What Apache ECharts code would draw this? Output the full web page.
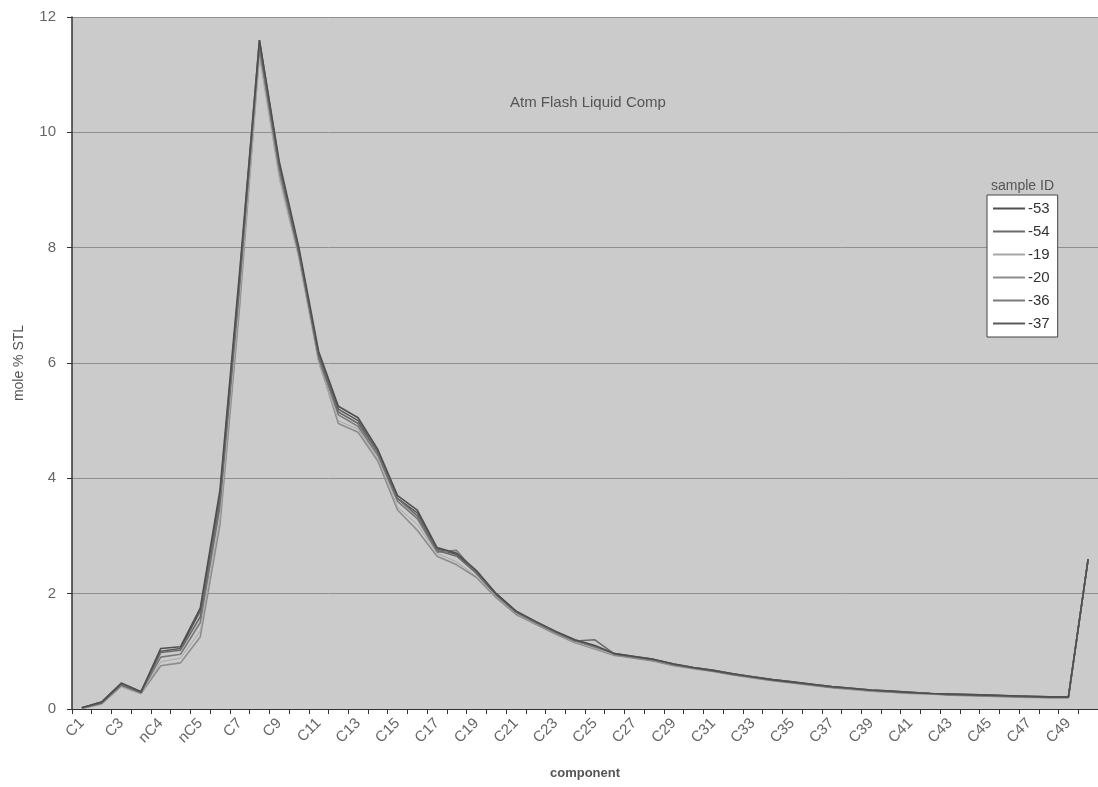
<!DOCTYPE html>
<html>
<head>
<meta charset="utf-8">
<title>Atm Flash Liquid Comp</title>
<script src="https://cdn.jsdelivr.net/npm/echarts@6/dist/echarts.min.js"></script>
<style>
  html, body { margin: 0; padding: 0; background: #fff; }
  #chart { width: 1098px; height: 787px; }
</style>
</head>
<body>
<div id="chart"></div>
<script>
// components (x axis)
const components = [
  "C1", "C2", "C3", "iC4", "nC4", "iC5", "nC5", "C6", "C7", "C8",
  "C9", "C10", "C11", "C12", "C13", "C14", "C15", "C16", "C17", "C18",
  "C19", "C20", "C21", "C22", "C23", "C24", "C25", "C26", "C27", "C28",
  "C29", "C30", "C31", "C32", "C33", "C34", "C35", "C36", "C37", "C38",
  "C39", "C40", "C41", "C42", "C43", "C44", "C45", "C46", "C47", "C48",
  "C49", "C50+"
];

// mole % STL per sample
const s53 = [0.02, 0.12, 0.45, 0.3, 1.05, 1.08, 1.75, 3.8, 7.6, 11.6,
  9.5, 8.0, 6.2, 5.25, 5.05, 4.5, 3.7, 3.45, 2.8, 2.7,
  2.4, 2.0, 1.7, 1.52, 1.35, 1.2, 1.1, 0.96, 0.91, 0.86,
  0.78, 0.72, 0.67, 0.61, 0.56, 0.51, 0.47, 0.43, 0.39, 0.36,
  0.33, 0.31, 0.29, 0.27, 0.26, 0.25, 0.24, 0.23, 0.22, 0.21,
  0.21, 2.6];
const s54 = [0.02, 0.1, 0.42, 0.28, 0.98, 1.02, 1.6, 3.6, 7.4, 11.5,
  9.4, 7.9, 6.1, 5.15, 4.95, 4.45, 3.65, 3.35, 2.75, 2.65,
  2.35, 1.98, 1.68, 1.5, 1.33, 1.18, 1.2, 0.95, 0.9, 0.85,
  0.77, 0.71, 0.66, 0.6, 0.55, 0.5, 0.46, 0.42, 0.38, 0.35,
  0.32, 0.3, 0.28, 0.27, 0.25, 0.24, 0.23, 0.22, 0.21, 0.2,
  0.2, 2.6];
const s19 = [0.01, 0.08, 0.38, 0.26, 0.82, 0.88, 1.35, 3.3, 7.1, 11.3,
  9.2, 7.8, 6.0, 5.0, 4.85, 4.35, 3.5, 3.2, 2.7, 2.55,
  2.3, 1.95, 1.66, 1.48, 1.32, 1.16, 1.05, 0.94, 0.89, 0.84,
  0.76, 0.71, 0.66, 0.6, 0.55, 0.5, 0.46, 0.42, 0.38, 0.34,
  0.31, 0.29, 0.27, 0.26, 0.25, 0.24, 0.23, 0.22, 0.21, 0.2,
  0.2, 2.6];
const s20 = [0.01, 0.09, 0.4, 0.27, 0.75, 0.8, 1.25, 3.2, 7.0, 11.4,
  9.3, 7.85, 6.05, 4.95, 4.8, 4.3, 3.45, 3.1, 2.65, 2.5,
  2.28, 1.93, 1.64, 1.47, 1.3, 1.15, 1.04, 0.93, 0.88, 0.83,
  0.75, 0.7, 0.65, 0.59, 0.54, 0.49, 0.45, 0.41, 0.37, 0.34,
  0.31, 0.29, 0.27, 0.26, 0.24, 0.23, 0.22, 0.21, 0.2, 0.2,
  0.2, 2.6];
const s36 = [0.02, 0.11, 0.43, 0.29, 0.9, 0.95, 1.5, 3.5, 7.3, 11.5,
  9.35, 7.9, 6.1, 5.1, 4.9, 4.4, 3.6, 3.3, 2.72, 2.75,
  2.35, 1.97, 1.67, 1.5, 1.33, 1.17, 1.07, 0.95, 0.9, 0.85,
  0.77, 0.71, 0.66, 0.6, 0.55, 0.5, 0.46, 0.42, 0.38, 0.35,
  0.32, 0.3, 0.28, 0.27, 0.25, 0.24, 0.23, 0.22, 0.21, 0.2,
  0.2, 2.6];
const s37 = [0.02, 0.12, 0.44, 0.3, 1.0, 1.05, 1.7, 3.7, 7.5, 11.6,
  9.45, 7.95, 6.15, 5.2, 5.0, 4.45, 3.65, 3.4, 2.78, 2.68,
  2.38, 2.0, 1.69, 1.51, 1.34, 1.19, 1.09, 0.96, 0.91, 0.86,
  0.78, 0.72, 0.67, 0.61, 0.56, 0.51, 0.47, 0.43, 0.39, 0.36,
  0.33, 0.31, 0.29, 0.27, 0.26, 0.25, 0.24, 0.23, 0.22, 0.21,
  0.21, 2.6];

const sampleNames = ["-53", "-54", "-19", "-20", "-36", "-37"];
const sampleData = [s53, s54, s19, s20, s36, s37];
const sampleColors = ["#4f4f4f", "#6b6b6b", "#a8a8a8", "#8c8c8c", "#7a7a7a", "#5a5a5a"];
const yTicks = { min: 0, max: 12, interval: 2 };

const chart = echarts.init(document.getElementById("chart"));

const series = sampleNames.map((name, i) => ({
  name: name,
  type: "line",
  data: sampleData[i],
  symbol: "none",
  lineStyle: { width: i === 2 ? 1 : 1.6, color: sampleColors[i] },
  itemStyle: { color: sampleColors[i] },
  z: 10 - i,
}));

const option = {
  animation: false,
  textStyle: { fontFamily: "Liberation Sans, Arial, sans-serif" },
  title: [
    {
      text: "Atm Flash Liquid Comp",
      left: 505,
      top: 90,
      textStyle: { fontSize: 15, fontWeight: "normal", color: "#555" },
    },
    {
      text: "sample ID",
      left: 986,
      top: 174,
      textStyle: { fontSize: 14, fontWeight: "normal", color: "#555" },
    },
  ],
  legend: {
    data: sampleNames,
    orient: "vertical",
    left: 987,
    top: 195,
    padding: [6, 8, 6, 6],
    itemGap: 8,
    itemWidth: 32,
    itemHeight: 2,
    icon: "rect",
    backgroundColor: "#fff",
    borderColor: "#444",
    borderWidth: 1,
    textStyle: { fontSize: 15, color: "#333", padding: [0, 0, 0, -2] },
  },
  grid: {
    left: 72,
    right: -5,
    top: 17,
    bottom: 78,
    show: true,
    backgroundColor: "#cbcbcb",
    borderWidth: 0,
  },
  xAxis: {
    type: "category",
    data: components,
    boundaryGap: true,
    name: "component",
    nameLocation: "middle",
    nameGap: 58,
    nameTextStyle: { fontSize: 13, fontWeight: "bold", color: "#555" },
    axisLine: { lineStyle: { color: "#333", width: 1 } },
    axisTick: { show: true, interval: 0, length: 5, lineStyle: { color: "#333" } },
    axisLabel: { interval: 1, rotate: 45, fontSize: 15, color: "#666", margin: 12 },
    splitLine: { show: false },
  },
  yAxis: {
    type: "value",
    min: yTicks.min,
    max: yTicks.max,
    interval: yTicks.interval,
    name: "mole % STL",
    nameLocation: "middle",
    nameGap: 46,
    nameTextStyle: { fontSize: 14, color: "#555" },
    axisLine: { show: true, lineStyle: { color: "#333", width: 1.5 } },
    axisTick: { show: true, length: 5, lineStyle: { color: "#333" } },
    axisLabel: { fontSize: 15, color: "#666", margin: 16 },
    splitLine: { show: true, lineStyle: { color: "#8f8f8f", width: 1 } },
  },
  series: series,
};

chart.setOption(option);
</script>
</body>
</html>
